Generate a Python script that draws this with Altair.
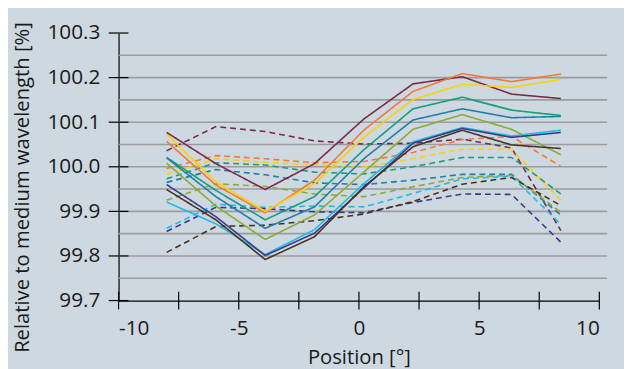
import altair as alt
import pandas as pd

positions = [-8, -5.95, -3.9, -1.85, 0.2, 2.25, 4.3, 6.35, 8.4]

series_names = ["maroon", "orange", "yellow", "teal", "blue", "olive", "cyan", "indigo", "brown"]
series_colors = ["#7a2a48", "#f2793a", "#fcd200", "#179c7d", "#1f7fa8", "#8cab34", "#1dbce6", "#3a3a8a", "#4a3222"]

solid_values = {
    "maroon": [100.077, 100.007, 99.949, 100.007, 100.107, 100.186, 100.202, 100.163, 100.153],
    "orange": [100.057, 99.959, 99.897, 99.970, 100.082, 100.169, 100.209, 100.191, 100.208],
    "yellow": [100.073, 99.966, 99.900, 99.962, 100.066, 100.151, 100.185, 100.178, 100.196],
    "teal":   [100.021, 99.947, 99.881, 99.933, 100.038, 100.130, 100.156, 100.127, 100.115],
    "blue":   [100.020, 99.933, 99.862, 99.910, 100.018, 100.105, 100.130, 100.110, 100.113],
    "olive":  [100.008, 99.912, 99.837, 99.892, 99.988, 100.084, 100.117, 100.084, 100.027],
    "cyan":   [99.921, 99.872, 99.803, 99.859, 99.962, 100.056, 100.088, 100.069, 100.082],
    "indigo": [99.960, 99.888, 99.801, 99.851, 99.952, 100.053, 100.086, 100.066, 100.077],
    "brown":  [99.949, 99.881, 99.792, 99.843, 99.955, 100.045, 100.082, 100.049, 100.041],
}

dashed_values = {
    "maroon": [100.036, 100.090, 100.079, 100.058, 100.051, 100.053, 100.062, 100.042, 99.857],
    "orange": [99.996, 100.025, 100.018, 100.009, 100.012, 100.032, 100.061, 100.068, 100.001],
    "yellow": [99.983, 100.018, 100.010, 100.004, 99.999, 100.018, 100.040, 100.039, 99.925],
    "teal":   [99.973, 100.009, 100.004, 99.988, 99.984, 100.000, 100.021, 100.021, 99.939],
    "blue":   [99.965, 99.994, 99.982, 99.964, 99.960, 99.970, 99.983, 99.983, 99.892],
    "olive":  [99.925, 99.962, 99.956, 99.939, 99.933, 99.955, 99.976, 99.981, 99.898],
    "cyan":   [99.862, 99.916, 99.909, 99.912, 99.910, 99.940, 99.973, 99.979, 99.871],
    "indigo": [99.855, 99.909, 99.906, 99.899, 99.897, 99.920, 99.939, 99.938, 99.831],
    "brown":  [99.808, 99.866, 99.869, 99.879, 99.894, 99.922, 99.961, 99.976, 99.913],
}

y_ticks = [99.7, 99.8, 99.9, 100.0, 100.1, 100.2, 100.3]
y_grid = [99.75, 99.8, 99.85, 99.9, 99.95, 100.0, 100.05, 100.1, 100.15, 100.2, 100.25]
x_labels = [-10, -5, 0, 5, 10]
x_ticks = [-10, -7.5, -5, -2.5, 0, 2.5, 5, 7.5, 10]

rows = []
for style, table in (("dashed", dashed_values), ("solid", solid_values)):
    for name in series_names:
        for x, y in zip(positions, table[name]):
            rows.append({"x": x, "y": y, "color": name, "style": style, "series": name + "_" + style})
df = pd.DataFrame(rows)

W, H = 487, 271
FONT = "Open Sans"
BG = "#cdd8e0"

xscale = alt.Scale(domain=[-10, 10], nice=False, zero=False)
yscale = alt.Scale(domain=[99.7, 100.3], nice=False, zero=False)

grid = alt.Chart(pd.DataFrame({"g": y_grid})).mark_rule(color="#9a9da0", strokeWidth=1.6).encode(
    y=alt.Y("g:Q", scale=yscale),
    x=alt.value(0), x2=alt.value(W + 8),
)

lines = alt.Chart(df).mark_line(strokeWidth=1.6).encode(
    x=alt.X("x:Q", scale=xscale,
            axis=alt.Axis(values=x_labels, title="Position [°]", ticks=False, grid=False,
                          labelExpr="datum.value < 0 ? '-' + abs(datum.value) : '' + datum.value",
                          labelPadding=17, domainColor="black",
                          titleBaseline="middle", titleY=58)),
    y=alt.Y("y:Q", scale=yscale,
            axis=alt.Axis(values=y_ticks, format=".1f", title="Relative to medium wavelength [%]",
                          ticks=False, grid=False, labelPadding=19, domainColor="black",
                          titleBaseline="middle", titleY=156, titleX=-97)),
    color=alt.Color("color:N", scale=alt.Scale(domain=series_names, range=series_colors), legend=None),
    strokeDash=alt.StrokeDash("style:N", scale=alt.Scale(domain=["solid", "dashed"], range=[[1, 0], [6, 4]]), legend=None),
    detail="series:N",
)

yt = alt.Chart(pd.DataFrame({"t": y_ticks})).mark_rule(color="black", strokeWidth=1.2).encode(
    y=alt.Y("t:Q", scale=yscale), x=alt.value(-10), x2=alt.value(10),
)
xt = alt.Chart(pd.DataFrame({"t": x_ticks})).mark_rule(color="black", strokeWidth=1.2).encode(
    x=alt.X("t:Q", scale=xscale), y=alt.value(H - 9), y2=alt.value(H + 9),
)

chart = alt.layer(grid, lines, yt, xt).properties(
    width=W, height=H,
    padding={"left": 112, "top": 23, "right": 25, "bottom": 67},
    autosize=alt.AutoSizeParams(type="none"),
    background=BG,
).configure_view(stroke=None, fill=BG).configure_axis(
    labelFont=FONT, titleFont=FONT, labelFontSize=21, titleFontSize=20.5,
    labelColor="#1a1a1a", titleColor="#1a1a1a", titleFontWeight="normal", domainWidth=1.2,
)

chart.save("out.html", embed_options={"renderer": "svg", "actions": False})
